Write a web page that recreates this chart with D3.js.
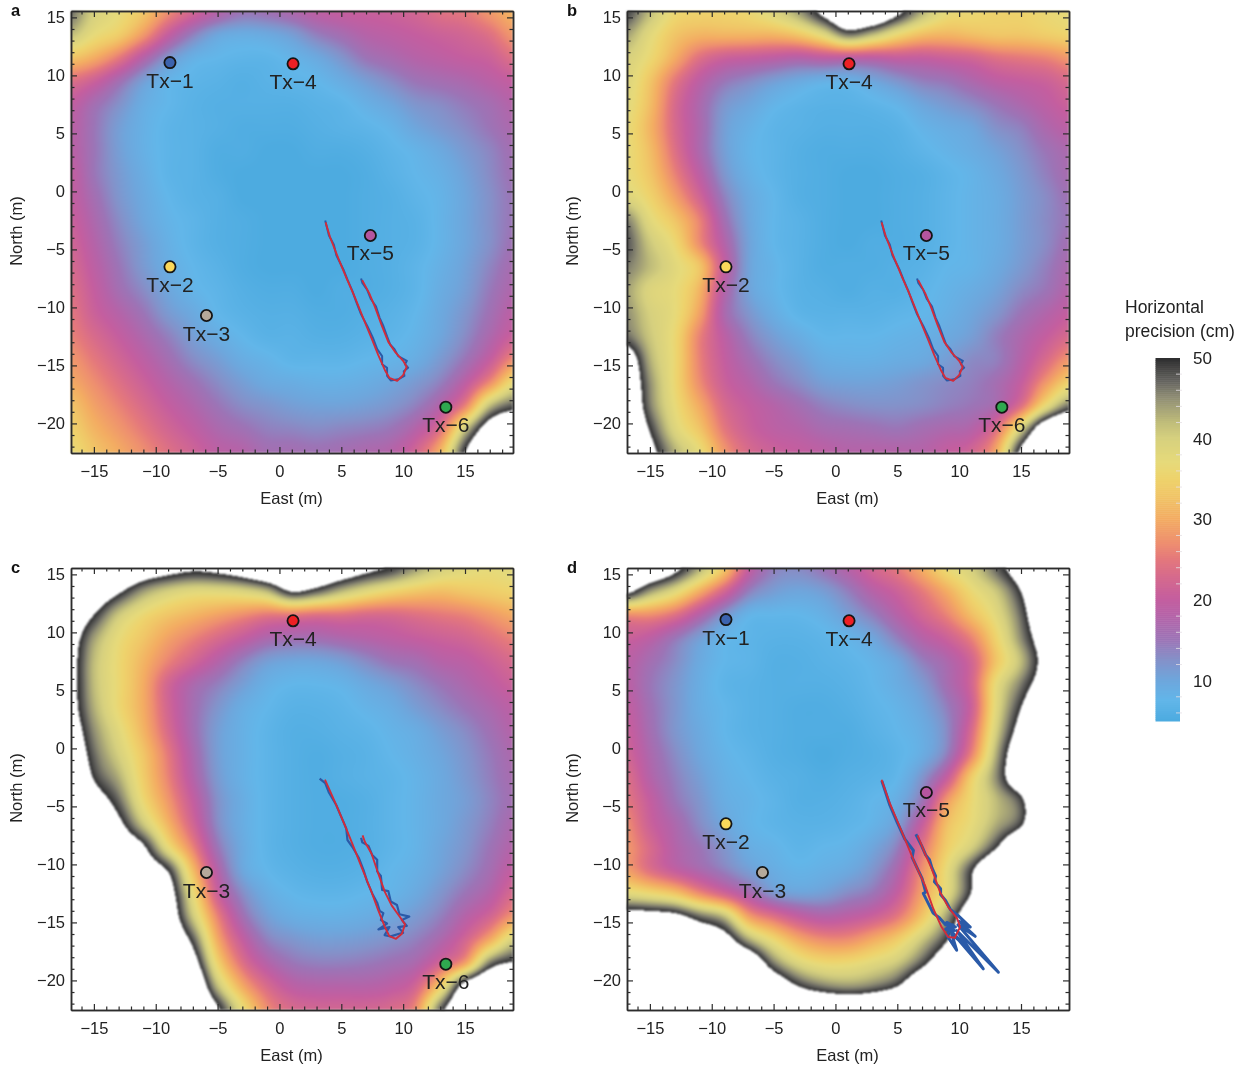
<!DOCTYPE html>
<html><head><meta charset="utf-8"><style>
html,body{margin:0;background:#fff}canvas{position:absolute;filter:blur(0.8px)}svg{position:absolute;left:0;top:0}
text{font-family:"Liberation Sans",Arial,sans-serif;fill:#222}
</style><script src="https://cdn.jsdelivr.net/npm/d3@7"></script></head><body>
<script>
// grid: columns x=-17..19 step 2, rows y=15.5..-22.5 step -2
const gridX = d3.range(-17, 20, 2);
const gridY = d3.range(15.5, -23, -2);
const precisionA = [
[47,40,37,33,27,22,18,15,15.5,17,19,20,20.5,21,22,24,25,28,31],
[42,37,34,28,20,14,10,9,9.5,11,14,16,18,19,20,21,22,24,28],
[33,30,25,18,12,8.5,7.5,7,7,8,9.5,12,15,16.5,18,19,20,21,24],
[24,21,16,11,8,7,6.5,6,6.5,7,7.5,9,11,13,15,16,17,18.5,20],
[20,16,12.5,9,7.5,6.5,6,6,6,6,6.5,7,8.5,10,12,13,14.5,16,18],
[19,15,11,8.5,7,6.5,6,5.5,5.5,5.5,6,6.5,7,8,10,11.5,13,15,17],
[19,15,11,8.5,7,6.5,5.5,5.5,5,5,5.5,5.5,6,7,8,9.5,11.5,13.5,16],
[20,15,11.5,9,7,6.5,5.5,5,5,5,5,5,5.5,6.5,7.5,8.5,10.5,13,15.5],
[20,16,12,9.5,7.5,6.5,6,5,5,5,5,5,5.5,6,7,8,10,12.5,15],
[21,17,13,10,8,7,6,5.5,5,5,5,5,5.5,6,6.5,8,10,12.5,15],
[22,18,14,11,8.5,7,6,5.5,5,5,5,5,5.5,6,6.5,8,10,12.5,15.5],
[23,19,15,11.5,9,7.5,6.5,5.5,5,5,5,5,5.5,6,7,8.5,10.5,13.5,16.5],
[24,20,16,13,10,8,7,6,5.5,5.5,5,5.5,5.5,6,7,9,11,14.5,17.5],
[25,21,18,15,11.5,9.5,7.5,6.5,6,6,5.5,5.5,6,6.5,7.5,9.5,12,15.5,19],
[26,23,20,17,14,11,9,7.5,6.5,6.5,6,6,6.5,7,8,10,13,17,21],
[28,25,22,19,16,13,11,9,8,7,7,7,7.5,8,9,11.5,15,20,27],
[30,27,24,21,18,15.5,13,11,9.5,9,8.5,8.5,9,10,11.5,14,19,27,37],
[33,29,26,23,20,17.5,15,13,12,11,10.5,10.5,11,12,14,18,26,42,48],
[35,31,28,25,22,19.5,17,15.5,14,13.5,13,13.5,14,15,18,24,41,55,60],
[37,33,30,27,24,21.5,19,18,16,16,15.5,16,17,18,22,31,50,60,65]];
const precisionB = [
[49,42,36,35,35,36,39,44,52,60,60,52,43,37,36,35,35,36,37],
[44,38,33,31,31,31,31,33,38,46,42,36,32,31,32,33,33,34,35],
[40,36,30,24,21,20,19,18,19,19,19,20,20,21,22,24,25,26,28],
[39,33,25,19,15,13,11,9.5,8.5,8.5,10,12,14,15,17,19,20,21,23],
[38,32,23,17,12,10,8,7,6.5,6.5,7,8,10,11.5,13,15,17,19,21],
[37,31,23,17,11,8.5,7,6.5,6,6,6,6.5,8,9,10,12.5,14,17,19],
[37,32,24,17,11,8,7,6,5.5,5.5,5.5,6,7,8,9,10.5,12.5,15,17],
[37,33,26,19,12,8.5,7,6,5.5,5,5,5.5,6,7,8,9.5,11.5,14,16.5],
[39,35,29,22,14,9.5,7.5,6,5.5,5,5,5.5,6,7,8,9,11,13,15.5],
[46,38,33,26,16,10,7.5,6.5,5.5,5,5,5.5,6,7,8,9,11,13,15],
[48,41,36,27,18,10.5,7.5,6.5,5.5,5,5.5,5.5,6,7,8,9,11,13,16],
[46,42,38,33,20,10.5,8,6.5,5.5,5.5,5.5,6,6.5,7.5,8,9.5,11.5,14,17],
[44,39,37,31,18,10.5,8,6.5,6,5.5,6,6,7,8,9,10.5,13,15,18],
[45,40,37,29,17,12,9,7,6.5,6.5,6.5,7,7.5,8.5,10,12,15,17.5,20],
[47,41,36,26,19,14,11,9,7.5,7.5,7.5,8,8.5,9.5,11,14,17,20,23],
[56,43,36,26,20,16,13,11,9,8.5,8.5,9,9.5,11,13,14,18,23,28],
[58,45,36,27,21,18,15,13,11,10.5,10.5,11,12,13,14,16,20,28,35],
[60,46,37,30,23,20,18,16,14,13,12.5,12.5,13,14,15,17,24,37,47],
[62,49.5,39,33,25,21,19,18,16.5,16,15.5,15,16,17,18,24,40,58,65],
[65,53,43,37,28,23,21,20,19,18,18,18,18,20,22,30,52,65,70]];
const precisionC = [
[66,66,62,56,53,51,52,55,60,62,60,56,52,49,44,40,38,37,38],
[64,58,51,44,40,38,38,39,42,50,47,42,38,35,33,32,33,34,35],
[58,50,41,36,33,31,29,27,25,25,24,24,23,23,24,25,26,28,30],
[54,44,37,33,29,26,23,20,17,16,16,17,18,19,20,21,22,24,26],
[53,42,36,31,26,22,18,14,11,10,10,11,13,15,16,18,19,21,23],
[53,42,36,30,22,17,14,11,8.5,7.5,7.5,8,9.5,11,13,15,17,19,21],
[53,43,36,30,22,16,12,9,7.5,6.5,6.5,7,8,9,11,13,15,17,19],
[55,45,38,31,23,16,11,8.5,7,6,6,6.5,7,8,9,11,13,15.5,18],
[58,47,40,33,25,17,11,8.5,7,6,5.5,6,6.5,7.5,8.5,10,12,14.5,17],
[62,49.5,43,34,26,18,11.5,8.5,7,6,5.5,6,6.5,7,8,9.5,11.5,14,16.5],
[66,55,47,36,28,20,12.5,9,7,6,5.5,5.5,6,7,8,9.5,11,13.5,16],
[68,60,52,41,31,22,13,9,7,6,5.5,5.5,6,7,8,9.5,11.5,14,17],
[70,64,58,51,37,26,15,9.5,7,6,5.5,5.5,6,7,8,10,12,15,18],
[70,68,62,56,49.5,32,18,10,7.5,6.5,6,6,6.5,7.5,8.5,10.5,13,16,20],
[70,70,66,60,54,37,21,13,9,7.5,7,7,7.5,8,9.5,12,15,18,23],
[70,70,68,63,56,41,26,16,11,9,8.5,8.5,9,10,11.5,14,18,22,28],
[70,70,70,66,59,48,30,20,14,12,11,11,11.5,12.5,14,17,22,30,40],
[70,70,70,68,62,54,35,24,18,15,14,14,14.5,15.5,17,22,29,46,51],
[70,70,70,70,65,60,42,30,23,19,18,18,18,19,22,34,54,62,66],
[70,70,70,70,68,62,51,37,27,23,22,22,22,23,27,47,60,66,70]];
const precisionD = [
[60,58,52,43,33,20,14,13,15,18,22,25,30,36,40,47,55,65,70],
[52,44,38,30,22,14,11,10,11,14,18,21,25,30,36,41,50,62,70],
[27,27,24,18,12,8,7.5,7.5,8.5,11,14,18,22,26,32,38,47,60,70],
[21,19,15,11,8,7,6.5,6.5,7,8,10,14,18,21,26,35,45,56,68],
[19,16,13,9.5,7.5,7,6,6,6.5,7,8,10,14,17,22,33,42,54,66],
[19,15,12,9,7,6.5,6,6,6,6.5,7.5,9,11.5,16,22,37,46,56,68],
[20,15.5,12,9,7.5,6.5,6,5.5,5.5,6,7,8,10,14,21,38,50,62,70],
[21,16,12,9.5,7.5,6.5,6,5.5,5.5,5.5,6.5,7.5,9,13,23,40,54,68,70],
[22,17,13,10,8,7,6,5.5,5,5.5,6,7,9,14,26,43,58,68,70],
[24,18,14,11,8.5,7.5,6.5,6,5.5,6,6.5,7.5,12,20,34,45,58,68,70],
[25,20,15,12,9,8,7,6,6,6.5,7.5,9,15,28,36,42,48.5,65,70],
[27,21,17,13,10,8,7,6.5,6.5,7,8,11,20,32,37,43,49,65,70],
[28,23,18,15,12,9,8,7,7.5,8,10,14,24,34,40,49.5,62,70,70],
[29,24,20,17,14,11,9,8,8.5,9.5,12,17,27,37,49,62,68,70,70],
[38,36,33,27,22,17,12,10.5,11,13,15,20,29,38,50.5,65,70,70,70],
[55,54,52.5,47,42,29,24,20,18,19,21,25,33,44,58,68,70,70,70],
[66,64,62,58,54,43.5,36,30,27,27,30,34,41,49.5,62,70,70,70,70],
[70,70,68,65,62,58,46,39,36,36,38,41,48,58,68,70,70,70,70],
[70,70,70,70,68,65,58,50,46,44.5,46,50,60,68,70,70,70,70,70],
[70,70,70,70,70,70,68,64,62,60,62,66,70,70,70,70,70,70,70]];

const colorStops = [5,7.5,10,12.5,15,18,20,23,25,27,30,33,35,37,40,42,45,47,50];
const colorValues = ["#4dabe0","#62b6e9","#6ea6dc","#8491c9","#9c74b6","#b563a8","#c45e9f","#d76b8b","#e4787c","#ee8f6f","#f3ac62","#f0c667","#eed36c","#e6da7a","#d6d07e","#bfbc7a","#8f8d73","#65645f","#2a2a2c"];
const colorbarTicks = [10,20,30,40,50];
const colorbarMinor = d3.range(6,50,2).filter(v=>v%10);

const txNames = ["Tx\u22121","Tx\u22122","Tx\u22123","Tx\u22124","Tx\u22125","Tx\u22126"];
const txEast = [-8.85,-8.85,-5.9,1.1,7.35,13.45];
const txNorth = [11.1,-6.5,-10.7,11,-3.8,-18.6];
const txColors = ["#3c63ae","#fbd85a","#b5a99a","#ee2024","#b5559f","#2fa84f"];

const redAB = [[3.73,-2.67],[4.08,-3.91],[4.76,-5.78],[5.43,-7.5],[6.1,-9.14],[6.78,-10.95],[7.45,-12.68],[7.99,-14.11],[8.53,-15.41],[8.88,-16.07],[9.52,-16.33],[10,-15.84],[10.28,-15.12],[10,-14.6],[9.34,-13.83],[8.8,-12.97],[8.26,-11.53],[7.72,-9.95],[7.26,-8.79],[6.69,-7.65]];
const blueAB = [[3.7,-2.5],[4.0,-3.8],[4.4,-4.6],[4.6,-5.5],[5.2,-6.8],[5.5,-7.6],[5.9,-8.6],[6.2,-9.5],[6.6,-10.6],[7.1,-11.6],[7.55,-12.6],[7.9,-13.6],[8.3,-14.2],[8.3,-14.9],[8.7,-15.2],[8.7,-15.9],[9.0,-16.3],[9.6,-16.2],[10.1,-15.9],[10.05,-15.5],[10.4,-15.2],[10.15,-14.9],[10.3,-14.6],[9.6,-14.2],[9.3,-13.6],[8.95,-13.2],[8.7,-12.5],[8.4,-11.6],[8.1,-10.9],[7.8,-9.9],[7.4,-9.3],[7.1,-8.5],[6.7,-7.9],[6.6,-7.5]];
const redC = [[3.68,-2.7],[4.49,-4.63],[5.29,-6.64],[5.84,-8.07],[6.64,-10.23],[7.45,-12.39],[7.99,-13.97],[8.53,-15.4],[8.88,-16.18],[9.42,-16.41],[9.9,-15.98],[10.15,-15.17],[9.74,-14.54],[9.07,-13.53],[8.53,-12.39],[7.99,-10.8],[7.45,-9.08],[6.91,-8.07],[6.72,-7.5]];
const blueC = [[3.25,-2.6],[3.7,-3.0],[4.0,-3.8],[4.6,-4.9],[5.0,-5.9],[5.4,-6.9],[5.5,-7.9],[5.9,-8.5],[6.4,-9.4],[6.8,-10.5],[7.1,-11.5],[7.5,-12.5],[7.9,-13.3],[8.1,-14.0],[8.4,-14.2],[8.2,-14.8],[8.7,-15.1],[8.0,-15.6],[8.9,-15.4],[8.5,-16.1],[9.0,-16.2],[9.6,-16.0],[10.0,-15.9],[9.6,-15.4],[10.3,-15.3],[9.9,-14.8],[10.5,-14.5],[9.7,-14.3],[9.5,-13.5],[9.0,-13.2],[8.8,-12.3],[8.3,-12.2],[8.2,-11.0],[7.9,-10.6],[7.9,-9.6],[7.5,-9.2],[7.2,-8.4],[6.7,-8.1],[6.6,-7.7]];
const redD = [[3.73,-2.7],[4.41,-4.77],[5.49,-7.5],[6.43,-9.94],[7.24,-11.81],[7.91,-13.82],[8.58,-15.4],[9.12,-16.26],[9.66,-16.32],[10.07,-15.4],[9.85,-14.68],[9.12,-13.68],[8.45,-12.38],[7.78,-10.37],[7.24,-9.08],[6.64,-7.5]];
const blueD = [[6.5,-7.4],[6.97,-8.4],[7.3,-9.2],[7.6,-9.6],[7.8,-10.3],[8.1,-11.0],[8.0,-11.5],[8.5,-12.1],[8.5,-12.6],[8.9,-13.1],[9.3,-13.9],[9.9,-14.4],[10.9,-15.4],[10.0,-14.9],[11.3,-16.2],[9.9,-15.2],[13.17,-19.3],[9.8,-15.7],[11.95,-19],[9.3,-15.7],[10.6,-17.1],[9.4,-16],[9.8,-17.4],[9,-16.1],[9.5,-15.2],[8.9,-15.6],[9.6,-15.7],[9.0,-15.0],[9.7,-15.4],[8.9,-15.2],[8.4,-14.6],[7.9,-14.2],[7.1,-12.5],[7.3,-12.4],[7.0,-11.2],[6.2,-9.4],[6.3,-8.8],[5.6,-7.8],[5.0,-6.4],[4.4,-4.9],[3.75,-2.8]];

const panelNames = ["a","b","c","d"];
const panelLeft = [71,627,71,627];
const panelTop = [11,11,568,568];
const panelGrids = [precisionA,precisionB,precisionC,precisionD];
const panelTx = [[0,1,2,3,4,5],[1,3,4,5],[2,3,5],[0,1,2,3,4]];
const panelRed = [redAB,redAB,redC,redD];
const panelBlue = [blueAB,blueAB,blueC,blueD];
const panelBlueWidth = [2,2,2.2,3];
const W = 442, H = 442;

const color = d3.scaleLinear().domain(colorStops).range(colorValues).interpolate(d3.interpolateRgb).clamp(true);
const x = d3.scaleLinear().domain([-16.85,18.88]).range([0,W]);
const y = d3.scaleLinear().domain([-22.55,15.55]).range([H,0]);
const colI = d3.scaleLinear().domain([gridX[0],gridX[gridX.length-1]]).range([0,gridX.length-1]);
const rowI = d3.scaleLinear().domain([gridY[0],gridY[gridY.length-1]]).range([0,gridY.length-1]);

function cr(a,b,c,d,t){return b+0.5*t*(c-a+t*(2*a-5*b+4*c-d+t*(3*(b-c)+d-a)));}
function sample(g,u,v){
  const i=Math.floor(u),j=Math.floor(v),t=u-i,s=v-j;
  const at=(r,c)=>g[Math.max(0,Math.min(g.length-1,r))][Math.max(0,Math.min(g[0].length-1,c))];
  const row=r=>cr(at(r,i-1),at(r,i),at(r,i+1),at(r,i+2),t);
  return cr(row(j-1),row(j),row(j+1),row(j+2),s);
}

const svg = d3.select("body").append("svg").attr("width",1247).attr("height",1069);
const frame = "#2c2c2c";
const line = d3.line().x(d=>x(d[0])).y(d=>y(d[1]));

panelNames.forEach((name,p)=>{
  const cv = d3.select("body").insert("canvas","svg").attr("width",W).attr("height",H)
    .style("left",panelLeft[p]+"px").style("top",panelTop[p]+"px");
  const ctx = cv.node().getContext("2d");
  const im = ctx.createImageData(W,H);
  const g = panelGrids[p];
  for(let py=0;py<H;py++)for(let px=0;px<W;px++){
    const val = sample(g,colI(x.invert(px+.5)),rowI(y.invert(py+.5)));
    const k=(py*W+px)*4;
    if(val>=50){im.data[k]=im.data[k+1]=im.data[k+2]=255;}
    else{const c=d3.rgb(color(val));im.data[k]=c.r;im.data[k+1]=c.g;im.data[k+2]=c.b;}
    im.data[k+3]=255;
  }
  ctx.putImageData(im,0,0);

  const G = svg.append("g").attr("transform",`translate(${panelLeft[p]},${panelTop[p]})`);
  G.append("path").attr("d",line(panelBlue[p])).attr("fill","none").attr("stroke","#2a5aa8").attr("stroke-width",panelBlueWidth[p]).attr("stroke-linejoin","round");
  G.append("path").attr("d",line(panelRed[p])).attr("fill","none").attr("stroke","#d22c3a").attr("stroke-width",1.9).attr("stroke-linejoin","round");

  const major = [-15,-10,-5,0,5,10,15];
  const majorY = [-20,-15,-10,-5,0,5,10,15];
  const minorX = d3.range(-16,19).filter(v=>v%5);
  const minorY = d3.range(-22,16).filter(v=>v%5);
  const style = s=>{s.selectAll("line").attr("stroke",frame).attr("stroke-width",1.2);s.select(".domain").attr("stroke",frame).attr("stroke-width",1.5);
    s.selectAll("text").style("font-size","16.5px").style("fill","#222").style("font-family","Liberation Sans");};
  const axes = [
    [()=>d3.axisBottom(x),`translate(0,${H})`,major,minorX,true,12],
    [()=>d3.axisTop(x),"translate(0,0)",major,minorX,false,12],
    [()=>d3.axisLeft(y),"translate(0,0)",majorY,minorY,true,6],
    [()=>d3.axisRight(y),`translate(${W},0)`,majorY,minorY,false,6]];
  axes.forEach(([mk,tr,maj,min,lab,pad])=>{
    G.append("g").attr("transform",tr).call(mk().tickValues(min).tickSizeOuter(0).tickSizeInner(-3.5).tickFormat("")).call(style);
    G.append("g").attr("transform",tr).call(mk().tickValues(maj).tickSizeOuter(0).tickSizeInner(-6).tickPadding(pad).tickFormat(lab?d3.format("d"):"")).call(style);
  });

  G.append("text").attr("x",W/2-0.5).attr("y",H+51).attr("text-anchor","middle").style("font-size","16.5px").text("East (m)");
  G.append("text").attr("transform",`translate(-49,${H/2-1}) rotate(-90)`).attr("text-anchor","middle").style("font-size","16.5px").text("North (m)");
  svg.append("text").attr("x",panelLeft[p]-60).attr("y",panelTop[p]+5).style("font-size","16.5px").style("font-weight","bold").style("fill","#111").text(name);

  panelTx[p].forEach(t=>{
    G.append("circle").attr("cx",x(txEast[t])).attr("cy",y(txNorth[t])).attr("r",5.6).attr("fill",txColors[t]).attr("stroke","#151515").attr("stroke-width",1.8);
    G.append("text").attr("x",x(txEast[t])).attr("y",y(txNorth[t])+25).attr("text-anchor","middle").style("font-size","21px").style("fill","#222").text(txNames[t]);
  });
});

// colour bar
const barY = d3.scaleLinear().domain([5,50]).range([721,358]);
const bar = svg.append("g");
const barSteps = d3.range(5,50,0.25);
bar.selectAll("rect").data(barSteps).join("rect").attr("x",1155.5).attr("width",24.5)
  .attr("y",d=>barY(d+0.25)).attr("height",d=>barY(d)-barY(d+0.25)+0.5).attr("fill",d=>color(d));
bar.selectAll("line").data(colorbarMinor).join("line").attr("x1",1176).attr("x2",1182).attr("y1",d=>barY(d)).attr("y2",d=>barY(d)).attr("stroke","#e4e0e4").attr("stroke-width",0.8);
bar.selectAll("text").data(colorbarTicks).join("text").attr("x",1193).attr("y",d=>barY(d)+6).style("font-size","17px").text(d=>d);
svg.append("text").attr("x",1125).attr("y",312.5).style("font-size","17.5px").text("Horizontal");
svg.append("text").attr("x",1125).attr("y",337).style("font-size","17.5px").text("precision (cm)");
</script></body></html>
